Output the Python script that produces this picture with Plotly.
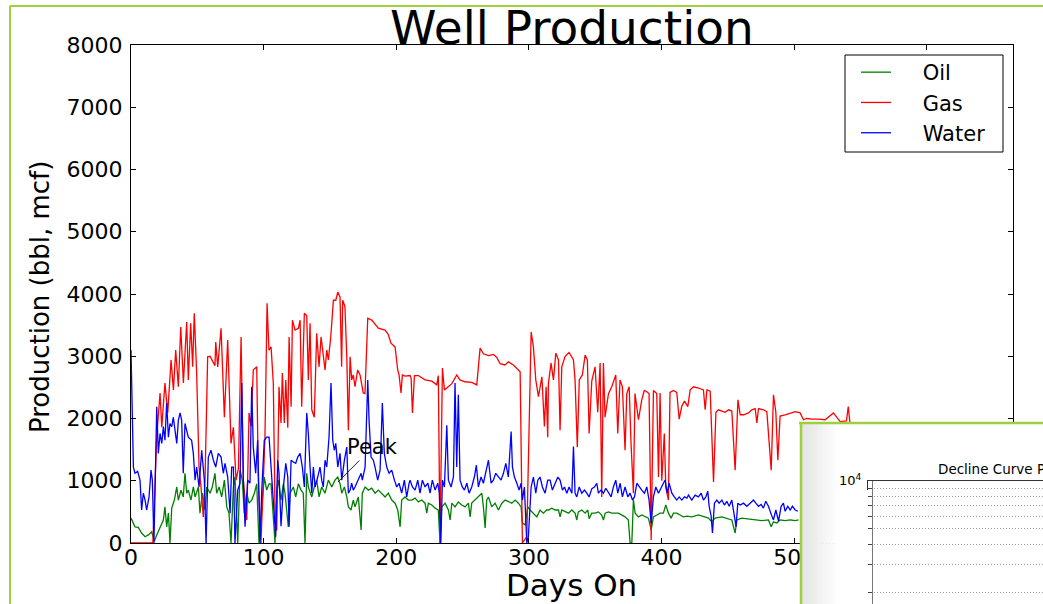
import plotly.graph_objects as go

# ---------------- data ----------------
oil_points = [
    (0, 400), (3.0, 260), (5.5, 250), (8.0, 160), (10.6, 100), (13.1, 130), (15.6, 180), (17.6, 30),
    (19.4, 130), (21.9, 260), (24.4, 370), (25.6, 580), (26.9, 260), (28.2, 480), (29.4, 0), (30.7, 560),
    (32.7, 690), (34.5, 900), (35.7, 690), (37.7, 850), (39.4, 740), (40.7, 1120), (42.0, 800), (43.2, 850),
    (45.2, 690), (47.0, 900), (48.3, 740), (50.8, 900), (52.0, 480), (53.8, 800), (55.8, 530), (57.1, 900),
    (59.6, 800), (61.3, 900), (63.3, 1120), (64.6, 800), (66.4, 900), (68.4, 740), (70.4, 1010), (72.2, 580),
    (73.9, 480), (75.4, 0), (77.2, 900), (78.4, 1060), (80.5, 0), (82.2, 1170), (83.9, 1010), (85.4, 480),
    (87.3, 800), (89.0, 640), (91.0, 690), (93.0, 800), (94.8, 950), (96.5, 0), (98.6, 580), (100.5, 1060),
    (102.3, 850), (104.1, 950), (105.6, 950), (107.3, 480), (108.6, 0), (109.9, 850), (111.1, 1010), (113.1, 690),
    (114.9, 950), (116.1, 800), (118.6, 260), (119.9, 800), (122.4, 900), (124.2, 740), (126.2, 950), (128.2, 850),
    (129.9, 800), (131.2, 0), (132.5, 1120), (133.7, 900), (136.3, 740), (138.2, 900), (140.0, 1010), (141.8, 740),
    (143.8, 900), (146.3, 800), (148.8, 1010), (151.4, 900), (153.8, 1010), (155.9, 1060), (157.6, 950), (158.9, 800),
    (160.9, 900), (162.7, 740), (163.9, 580), (165.9, 530), (167.6, 690), (168.9, 580), (171.4, 740), (173.5, 210),
    (174.4, 800), (176.5, 900), (179.0, 850), (181.5, 880), (184.0, 800), (186.5, 850), (189.1, 800), (191.6, 740),
    (194.0, 800), (196.6, 690), (199.1, 640), (201.1, 530), (202.9, 260), (204.1, 690), (206.6, 740), (209.1, 690),
    (211.7, 690), (214.2, 720), (216.7, 660), (219.2, 690), (221.7, 640), (223.0, 480), (224.2, 640), (226.8, 610),
    (229.3, 560), (231.7, 530), (233.0, 0), (234.3, 580), (236.8, 640), (239.3, 530), (240.6, 370), (241.9, 640),
    (244.3, 580), (246.8, 660), (249.4, 610), (251.9, 580), (254.4, 640), (255.7, 420), (256.9, 640), (259.4, 690),
    (261.9, 740), (264.5, 800), (265.7, 580), (267.0, 240), (268.2, 690), (269.5, 740), (272.0, 580), (274.5, 640),
    (277.0, 530), (279.6, 640), (282.1, 690), (284.5, 660), (287.1, 640), (289.6, 690), (292.1, 640), (294.1, 580),
    (295.1, 320), (297.1, 290), (299.2, 580), (300.9, 530), (303.4, 480), (306.0, 420), (308.4, 530), (310.9, 480),
    (313.5, 530), (314.7, 530), (317.3, 560), (319.8, 530), (322.3, 530), (323.5, 420), (324.8, 530), (327.3, 500),
    (329.8, 480), (332.4, 530), (334.8, 480), (336.1, 370), (337.3, 500), (339.9, 530), (342.4, 480), (344.4, 530),
    (345.4, 390), (347.4, 480), (349.9, 480), (352.4, 500), (354.9, 450), (356.2, 370), (357.5, 480), (360.0, 500),
    (362.5, 480), (367.5, 480), (372.5, 420), (375.0, 370), (376.3, 0), (377.6, 0), (378.8, 690), (380.1, 480),
    (382.6, 420), (385.1, 450), (387.6, 420), (390.1, 400), (392.2, 210), (393.9, 420), (396.5, 450), (398.9, 480),
    (401.4, 480), (403.2, 610), (405.2, 480), (407.2, 400), (409.0, 480), (411.5, 480), (414.0, 450), (416.5, 420),
    (419.1, 430), (422.8, 420), (427.8, 450), (431.6, 420), (435.4, 400), (437.9, 340), (440.4, 400), (445.5, 420),
    (449.2, 400), (453.0, 370), (455.5, 160), (456.8, 370), (460.5, 400), (465.5, 390), (470.6, 370), (475.6, 360),
    (480.6, 370), (482.7, 260), (484.4, 340), (486.9, 320), (489.4, 370), (493.2, 360), (497.0, 370), (500.8, 360),
    (503.3, 370),
]

gas_points = [
    (0, 0), (16.5, 0), (19.4, 1710), (21.9, 2410), (23.2, 1860), (25.6, 2570), (27.7, 2090), (30.2, 2940),
    (32.0, 2460), (33.7, 3100), (35.7, 2510), (37.5, 3470), (39.5, 2570), (42.0, 3550), (43.2, 2620), (45.0, 3530),
    (46.5, 2830), (47.7, 3690), (49.5, 2730), (51.3, 1220), (52.8, 900), (54.5, 420), (55.8, 1000), (57.8, 2990),
    (59.6, 3000), (63.3, 2850), (63.9, 3230), (65.4, 2830), (67.9, 3450), (70.4, 2020), (72.9, 3260), (75.4, 1600),
    (77.2, 1860), (79.2, 1010), (81.0, 1200), (83.0, 3310), (84.7, 1010), (87.3, 370), (89.0, 2090), (90.5, 1870),
    (92.2, 2780), (94.8, 2830), (96.0, 1000), (98.0, 0), (101.0, 1700), (102.6, 3850), (104.0, 3100), (105.6, 3150),
    (107.3, 2570), (108.6, 480), (109.9, 200), (111.6, 2510), (113.1, 1930), (114.1, 2730), (115.6, 1930), (116.7, 2620),
    (118.2, 1850), (119.2, 3310), (120.7, 2190), (121.7, 3580), (123.7, 3420), (126.2, 3450), (127.5, 3580), (128.7, 2190),
    (130.7, 3690), (132.5, 3650), (133.7, 2620), (135.0, 3530), (136.3, 2140), (138.2, 2020), (140.0, 3370), (141.8, 2830),
    (143.3, 3310), (145.0, 2940), (146.3, 2780), (147.6, 3100), (148.8, 2940), (150.6, 3310), (152.6, 3900), (154.4, 3900),
    (155.9, 4030), (157.6, 3950), (158.8, 2830), (159.6, 3900), (161.3, 3800), (162.7, 2990), (163.9, 1810), (165.2, 2990),
    (166.4, 2620), (167.6, 2700), (168.9, 2510), (170.9, 2780), (172.7, 2700), (175.1, 2410), (176.4, 2400), (178.5, 3610),
    (181.5, 3580), (186.5, 3450), (191.6, 3420), (194.0, 3350), (196.0, 3210), (199.1, 3150), (201.1, 2780), (202.1, 2700),
    (203.6, 2410), (204.6, 2700), (206.6, 2680), (210.4, 2690), (211.2, 2650), (212.2, 2090), (213.7, 2690), (216.7, 2690),
    (221.7, 2620), (226.8, 2600), (230.5, 2540), (231.7, 2690), (233.0, 0), (234.8, 2810), (236.3, 2460), (238.1, 2490),
    (241.9, 2560), (245.6, 2700), (248.0, 2620), (251.9, 2590), (256.9, 2580), (260.7, 2540), (263.2, 3130), (265.7, 3040),
    (269.5, 3010), (273.2, 3030), (275.8, 2980), (278.3, 2880), (282.0, 2860), (284.5, 2910), (288.3, 2860), (293.4, 2750),
    (295.1, 0), (298.4, 100), (301.7, 3390), (303.4, 3150), (305.2, 2620), (307.2, 2350), (309.8, 2670), (311.7, 1870),
    (313.0, 2510), (314.2, 1700), (314.7, 2560), (316.7, 2890), (318.5, 2620), (320.3, 3050), (322.3, 2940), (323.5, 1810),
    (324.8, 2830), (327.3, 3000), (330.3, 3060), (333.6, 2940), (334.8, 2620), (336.5, 1540), (338.0, 2620), (340.3, 2700),
    (342.4, 3020), (344.1, 2940), (345.4, 1760), (347.4, 2600), (349.9, 2830), (351.9, 2100), (353.7, 2890), (354.9, 740),
    (356.2, 2890), (357.4, 2020), (360.0, 2400), (362.5, 2510), (365.5, 2700), (367.0, 1760), (368.7, 2620), (370.5, 2510),
    (372.5, 1490), (373.8, 2400), (375.6, 2510), (377.0, 1600), (378.8, 800), (380.0, 2400), (382.6, 1980), (385.1, 2300),
    (387.0, 2450), (388.9, 2430), (390.6, 2400), (392.2, 50), (393.9, 2450), (396.4, 2400), (397.7, 1060), (398.9, 2410),
    (400.2, 1000), (402.1, 1760), (403.2, 900), (405.2, 690), (406.4, 2420), (409.0, 2450), (411.5, 2420), (413.3, 1990),
    (415.3, 2200), (417.3, 2280), (419.8, 2190), (421.6, 2460), (424.1, 2510), (427.8, 2490), (431.6, 2460), (432.9, 2140),
    (434.2, 2460), (436.7, 2440), (439.2, 980), (441.0, 2100), (442.9, 2140), (445.5, 2120), (448.0, 2100), (450.5, 2140),
    (453.0, 2120), (455.5, 1170), (457.6, 2300), (459.3, 2060), (461.9, 2060), (465.6, 2090), (468.1, 2140), (470.6, 2160),
    (471.9, 1930), (473.1, 2160), (476.9, 2140), (479.4, 2110), (482.7, 1170), (484.4, 2380), (486.2, 2100), (487.7, 1330),
    (489.4, 2040), (493.2, 2060), (497.0, 2090), (500.8, 2110), (504.5, 2090), (507.0, 1980), (509.6, 2000), (513.3, 1990),
    (518.3, 1990), (523.4, 1980), (529.6, 2090), (534.7, 1950), (539.4, 1960), (540.8, 2190), (542.2, 1900), (545.0, 1890),
]

water_points = [
    (0, 3100), (1.8, 1220), (3.0, 1120), (5.0, 1150), (6.8, 1010), (8.0, 530), (9.3, 800), (10.6, 690),
    (11.8, 530), (13.6, 740), (15.1, 1170), (16.1, 1010), (17.3, 0), (19.4, 2190), (20.6, 1440), (21.9, 1760),
    (23.2, 1600), (24.4, 1870), (25.6, 1650), (26.9, 2250), (28.2, 1700), (29.4, 1920), (30.7, 1870), (31.9, 2020),
    (33.2, 1810), (34.5, 1600), (35.7, 1970), (37.0, 2090), (38.2, 1970), (39.4, 1120), (40.7, 1920), (43.2, 1700),
    (45.7, 1650), (47.0, 1440), (48.3, 1010), (49.5, 1220), (51.3, 900), (53.3, 1490), (55.3, 1010), (56.6, 0),
    (58.3, 1380), (60.3, 1490), (62.1, 1330), (63.9, 1220), (65.8, 1440), (67.9, 1380), (69.6, 1120), (70.9, 1280),
    (72.9, 1060), (74.7, 480), (75.9, 1220), (77.2, 1220), (78.4, 0), (80.5, 850), (82.2, 960), (83.5, 2570),
    (84.7, 1010), (86.0, 260), (88.0, 1010), (89.7, 960), (91.0, 2510), (92.2, 1540), (94.0, 1120), (95.5, 1650),
    (97.3, 0), (98.6, 850), (100.5, 1650), (102.3, 1700), (104.1, 1700), (105.6, 1220), (107.3, 800), (109.1, 100),
    (110.6, 1330), (111.6, 1120), (113.1, 270), (114.9, 900), (116.7, 1280), (118.2, 1060), (119.2, 260), (120.7, 1330),
    (122.4, 1300), (124.2, 1280), (125.7, 1380), (127.5, 1440), (129.2, 1220), (130.7, 900), (132.5, 2090), (133.7, 1760),
    (135.0, 1220), (136.3, 800), (137.5, 1220), (138.8, 900), (140.8, 1060), (142.5, 1220), (143.8, 1010), (145.0, 900),
    (146.3, 1330), (147.6, 1220), (149.3, 1700), (150.8, 2570), (152.1, 1650), (153.3, 1490), (154.4, 1600), (155.9, 1220),
    (157.6, 1440), (158.9, 1010), (160.9, 1330), (162.7, 1540), (163.9, 800), (165.2, 850), (166.4, 960), (167.6, 850),
    (168.9, 900), (171.4, 1010), (173.5, 1120), (174.4, 1010), (176.5, 1220), (178.5, 2620), (179.5, 1970), (181.0, 1380),
    (182.7, 1330), (184.0, 1220), (186.0, 1010), (187.8, 1170), (189.5, 2250), (191.0, 1440), (192.8, 1220), (194.6, 1120),
    (196.6, 1170), (198.6, 1010), (200.4, 900), (202.1, 960), (204.1, 800), (206.1, 1010), (207.9, 740), (209.7, 960),
    (210.4, 1010), (212.2, 900), (214.2, 850), (216.2, 1010), (217.9, 800), (219.7, 1010), (221.7, 900), (223.8, 960),
    (225.5, 800), (227.2, 1010), (229.3, 850), (231.3, 960), (232.5, 800), (233.6, 0), (234.8, 1010), (236.3, 900),
    (238.1, 1890), (239.3, 1010), (241.3, 900), (243.1, 1060), (244.3, 2570), (245.6, 1220), (246.8, 2380), (248.1, 1010),
    (249.8, 900), (251.4, 850), (253.2, 960), (254.9, 800), (256.9, 900), (258.9, 1060), (260.4, 1250), (261.9, 900),
    (263.9, 1060), (265.7, 960), (267.5, 1120), (269.5, 1330), (271.5, 960), (273.2, 1010), (275.0, 1120), (277.0, 1060),
    (279.0, 1010), (280.8, 1120), (282.6, 1280), (284.5, 1060), (286.6, 1790), (287.6, 1220), (289.1, 1060), (290.9, 960),
    (292.6, 850), (294.1, 960), (295.1, 690), (296.6, 900), (298.4, 0), (299.6, 100), (301.7, 900), (303.4, 1060),
    (305.2, 800), (306.7, 1010), (308.4, 1060), (310.2, 900), (312.2, 800), (314.2, 1010), (316.0, 1010), (317.7, 850),
    (319.8, 960), (321.8, 1060), (323.5, 1010), (325.3, 850), (326.8, 900), (328.6, 800), (330.3, 900), (332.4, 800),
    (333.6, 1550), (334.8, 800), (336.1, 740), (337.9, 900), (339.9, 800), (341.9, 850), (343.7, 800), (345.4, 740),
    (347.4, 870), (349.4, 900), (351.2, 960), (352.4, 800), (354.4, 850), (356.2, 800), (358.0, 880), (360.0, 800),
    (362.0, 740), (363.7, 900), (365.5, 1010), (367.0, 800), (368.8, 960), (370.5, 740), (372.5, 900), (374.6, 740),
    (376.3, 800), (378.1, 690), (379.6, 740), (381.4, 960), (383.1, 900), (385.1, 850), (387.1, 800), (388.9, 900),
    (390.6, 690), (392.2, 320), (393.9, 740), (395.7, 900), (397.7, 800), (399.7, 900), (401.4, 960), (402.7, 1010),
    (404.2, 800), (405.7, 960), (407.8, 800), (409.7, 740), (411.5, 690), (413.3, 740), (415.3, 690), (417.3, 740),
    (419.1, 720), (420.3, 770), (422.8, 690), (425.3, 770), (427.8, 740), (429.9, 800), (431.6, 690), (433.4, 740),
    (434.9, 830), (435.9, 590), (437.4, 430), (438.4, 160), (439.9, 640), (441.7, 690), (443.4, 640), (445.5, 690),
    (447.4, 610), (449.2, 670), (451.0, 590), (453.0, 690), (455.0, 430), (456.2, 260), (457.5, 640), (459.3, 610),
    (461.8, 640), (464.3, 590), (466.8, 640), (469.3, 690), (471.1, 640), (473.1, 590), (475.1, 620), (476.8, 560),
    (478.6, 670), (480.6, 590), (482.7, 460), (484.4, 370), (486.2, 530), (488.2, 350), (490.2, 590), (491.9, 640),
    (493.2, 510), (495.2, 590), (497.0, 530), (498.7, 590), (500.8, 530), (502.8, 510),
]

oil_days = [d for d, _ in oil_points]
oil_bbl = [v for _, v in oil_points]
gas_days = [d for d, _ in gas_points]
gas_mcf = [v for _, v in gas_points]
water_days = [d for d, _ in water_points]
water_bbl = [v for _, v in water_points]

series_names = ["Oil", "Gas", "Water"]
x_ticks = [0, 100, 200, 300, 400, 500, 600]
y_ticks = [0, 1000, 2000, 3000, 4000, 5000, 6000, 7000, 8000]
decline_major_ticks = [10000]
decline_major_text = ["10<sup>4</sup>"]
decline_minor_ticks = [2000, 3000, 4000, 5000, 6000, 7000, 8000, 9000]
peak_day, peak_value = 156, 980

# ---------------- figure ----------------
W, H = 1043, 604
FONT = "DejaVu Sans"


def px_x(p):
    return p / W


def px_y(p):
    return 1 - p / H


# legend labels: a gap between the line sample and the text, as in the reference
pad = "\u00a0" * 4
fig = go.Figure()
fig.add_trace(go.Scatter(x=oil_days, y=oil_bbl, mode="lines", name=pad + series_names[0],
                         line=dict(color="#008000", width=1.3)))
fig.add_trace(go.Scatter(x=gas_days, y=gas_mcf, mode="lines", name=pad + series_names[1],
                         line=dict(color="#ff0000", width=1.3)))
fig.add_trace(go.Scatter(x=water_days, y=water_bbl, mode="lines", name=pad + series_names[2],
                         line=dict(color="#0000ff", width=1.3)))
# the decline-curve inset axes (its curve lies outside the visible area of the picture)
fig.add_trace(go.Scatter(x=[], y=[], mode="lines", xaxis="x2", yaxis="y2",
                         showlegend=False, hoverinfo="skip"))

green = "#9fcf3c"

axis_common = dict(showline=True, linecolor="black", linewidth=1, mirror="allticks",
                   ticks="inside", ticklen=5, tickcolor="black", showgrid=False,
                   zeroline=False, automargin=False,
                   tickfont=dict(family=FONT, size=22, color="black"))


def paper_rect(x0, x1, y0, y1, color):
    return dict(type="rect", xref="paper", yref="paper", layer="above",
                x0=px_x(x0), x1=px_x(x1), y0=px_y(y1), y1=px_y(y0),
                line=dict(width=0), fillcolor=color)


shapes = []
# ---- inset card (covers the right-bottom corner of the main chart) ----
n_strips = 13
strip_end = 838
strip_w = (strip_end - 800) / n_strips
for i in range(n_strips):
    g = int(228 + (254 - 228) * i / (n_strips - 1))
    shapes.append(paper_rect(800 + i * strip_w, 800 + (i + 1) * strip_w + 0.5, 422, 604,
                             f"rgb({g},{g},{g})"))
shapes.append(paper_rect(strip_end, 868, 490, 604, "white"))
shapes.append(paper_rect(strip_end, 866, 422, 470, "white"))
shapes.append(paper_rect(866, 1043, 422, 480.0, "white"))
# green card border (top and left)
shapes.append(dict(type="line", xref="paper", yref="paper", layer="above",
                   x0=px_x(799), x1=1.0, y0=px_y(423), y1=px_y(423),
                   line=dict(color=green, width=2.5)))
shapes.append(dict(type="line", xref="paper", yref="paper", layer="above",
                   x0=px_x(801), x1=px_x(801), y0=0, y1=px_y(422),
                   line=dict(color=green, width=2.5)))
# outer slide frame
shapes.append(dict(type="line", xref="paper", yref="paper", x0=px_x(10), x1=1.0,
                   y0=px_y(6), y1=px_y(6), line=dict(color=green, width=2)))
shapes.append(dict(type="line", xref="paper", yref="paper", x0=px_x(10), x1=px_x(10),
                   y0=0, y1=px_y(6), line=dict(color=green, width=2)))
# legend frame
shapes.append(dict(type="rect", xref="paper", yref="paper", x0=px_x(845), x1=px_x(1003),
                   y0=px_y(152), y1=px_y(55), line=dict(color="black", width=1)))

fig.update_layout(
    width=W, height=H, autosize=False,
    margin=dict(l=0, r=0, t=0, b=0, pad=0, autoexpand=False),
    paper_bgcolor="#ffffff", plot_bgcolor="white",
    showlegend=True,
    font=dict(family=FONT, color="black"),
    xaxis=dict(domain=[px_x(131), px_x(1013)], range=[0, 665], tickvals=x_ticks,
               anchor="y", ticklabelstandoff=-5, **axis_common),
    yaxis=dict(domain=[px_y(543), px_y(45)], range=[0, 8000], tickvals=y_ticks,
               anchor="x", ticklabelstandoff=3, **axis_common),
    # decline curve axes inside the inset card
    xaxis2=dict(domain=[px_x(868), 1.0], range=[-0.25, 9.75], anchor="y2", side="top",
                showline=True, linecolor="#333333", linewidth=1, showgrid=False,
                zeroline=True, zerolinecolor="#777777", zerolinewidth=1,
                showticklabels=False, ticks="", automargin=False),
    yaxis2=dict(domain=[0, px_y(480.7)], type="log", range=[3.229, 4.001], anchor="x2",
                tickvals=decline_major_ticks, ticktext=decline_major_text,
                showline=True, linecolor="#333333", linewidth=1,
                ticks="inside", ticklen=4, tickcolor="#333333", showgrid=False,
                minor=dict(tickvals=decline_minor_ticks, ticks="inside", ticklen=4,
                           tickcolor="#444444", showgrid=True, gridcolor="#9a9a9a",
                           gridwidth=1, griddash="1px,2px"),
                zeroline=False, automargin=False, ticklabelstandoff=3,
                tickfont=dict(family=FONT, size=13, color="black")),
    legend=dict(x=px_x(856), y=px_y(52), xanchor="left", yanchor="top",
                borderwidth=0, bgcolor="rgba(0,0,0,0)",
                font=dict(family=FONT, size=21, color="black"),
                itemwidth=30, tracegroupgap=0),
    shapes=shapes,
    annotations=[
        dict(text="Well Production", xref="paper", yref="paper", x=px_x(572), y=px_y(27.5),
             xanchor="center", yanchor="middle", showarrow=False,
             font=dict(family=FONT, size=47, color="black")),
        dict(text="Days On", xref="paper", yref="paper", x=px_x(571), y=px_y(585),
             xanchor="center", yanchor="middle", showarrow=False,
             font=dict(family=FONT, size=31, color="black")),
        dict(text="Production (bbl, mcf)", xref="paper", yref="paper", x=px_x(40), y=px_y(297),
             xanchor="center", yanchor="middle", showarrow=False, textangle=-90,
             font=dict(family=FONT, size=26, color="black")),
        dict(text="Peak", x=peak_day, y=peak_value, xref="x", yref="y",
             ax=35, ay=-35, showarrow=True, arrowhead=0, arrowwidth=1, arrowcolor="#222222",
             font=dict(family=FONT, size=21, color="black")),
        dict(text="Decline Curve Production", xref="paper", yref="paper", x=px_x(936), y=px_y(469),
             xanchor="left", yanchor="middle", showarrow=False,
             font=dict(family=FONT, size=13.5, color="black")),
    ],
)

fig.write_html("out.html", config={"displayModeBar": False},
               post_script="document.body.style.margin='0px';document.body.style.overflow='hidden';")
